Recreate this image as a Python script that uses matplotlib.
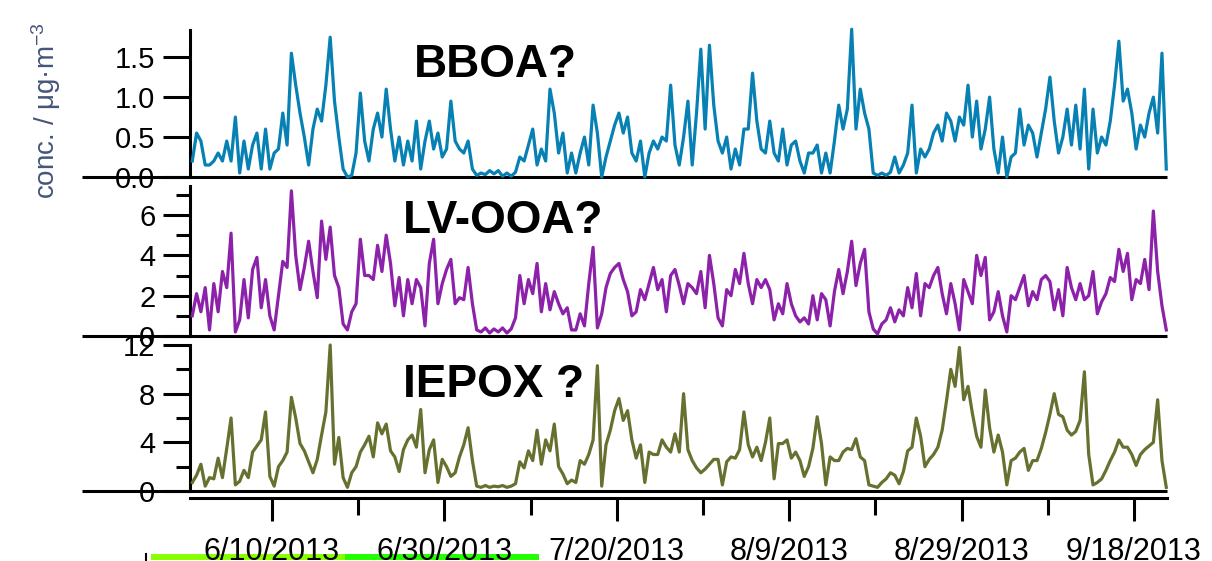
import matplotlib
matplotlib.use('Agg')
import matplotlib.pyplot as plt
from matplotlib.lines import Line2D
from datetime import datetime, timedelta

plt.rcParams['font.family'] = ['Liberation Sans', 'DejaVu Sans']
plt.rcParams['mathtext.fontset'] = 'custom'
plt.rcParams['mathtext.rm'] = 'Liberation Sans'
plt.rcParams['mathtext.it'] = 'Liberation Sans:italic'
plt.rcParams['mathtext.bf'] = 'Liberation Sans:bold'

# ---------------- data (12-hourly samples) ----------------
start_time = datetime(2013, 5, 31, 18)
step_hours = 12

bboa = [
    0.2, 0.55, 0.45, 0.15, 0.15, 0.2, 0.3, 0.2, 0.45, 0.2,
    0.75, 0.05, 0.45, 0.1, 0.4, 0.55, 0.1, 0.6, 0.1, 0.3,
    0.35, 0.8, 0.4, 1.55, 1.15, 0.8, 0.5, 0.15, 0.6, 0.85,
    0.7, 1.15, 1.75, 0.95, 0.5, 0.1, 0.0, 0.02, 0.3, 1.05,
    0.45, 0.2, 0.6, 0.8, 0.5, 1.1, 0.6, 0.2, 0.5, 0.15,
    0.45, 0.2, 0.7, 0.1, 0.45, 0.7, 0.35, 0.55, 0.25, 0.35,
    0.95, 0.45, 0.35, 0.3, 0.45, 0.1, 0.02, 0.05, 0.03, 0.08,
    0.04, 0.08, 0.01, 0.05, 0.01, 0.06, 0.25, 0.2, 0.4, 0.6,
    0.15, 0.35, 0.2, 1.1, 0.8, 0.3, 0.55, 0.05, 0.3, 0.05,
    0.3, 0.5, 0.15, 0.9, 0.55, 0.0, 0.25, 0.45, 0.65, 0.8,
    0.55, 0.75, 0.3, 0.2, 0.45, 0.0, 0.3, 0.45, 0.35, 0.5,
    0.45, 1.15, 0.4, 0.15, 0.5, 0.95, 0.15, 0.8, 1.6, 0.6,
    1.65, 0.9, 0.45, 0.3, 0.5, 0.1, 0.35, 0.15, 0.6, 0.6,
    1.3, 0.7, 0.35, 0.3, 0.7, 0.3, 0.2, 0.6, 0.15, 0.4,
    0.45, 0.2, 0.05, 0.3, 0.3, 0.4, 0.05, 0.3, 0.05, 0.45,
    0.9, 0.6, 0.85, 1.85, 0.6, 1.1, 0.8, 0.6, 0.05, 0.02,
    0.05, 0.02, 0.06, 0.25, 0.05, 0.15, 0.3, 0.9, 0.05, 0.35,
    0.25, 0.35, 0.55, 0.65, 0.45, 0.8, 0.7, 0.45, 0.75, 0.65,
    1.15, 0.5, 0.95, 0.35, 0.6, 1.0, 0.35, 0.05, 0.5, 0.0,
    0.25, 0.3, 0.85, 0.4, 0.65, 0.55, 0.25, 0.55, 0.85, 1.25,
    0.7, 0.3, 0.5, 0.85, 0.4, 0.9, 0.35, 1.1, 0.1, 0.85,
    0.3, 0.5, 0.4, 0.7, 1.15, 1.7, 0.95, 1.1, 0.8, 0.35,
    0.65, 0.5, 0.8, 1.0, 0.55, 1.55, 0.1,
]

lvooa = [
    1.0, 2.1, 1.2, 2.4, 0.3, 2.6, 1.2, 3.2, 2.4, 5.1,
    0.2, 0.8, 2.8, 0.9, 3.3, 3.9, 1.4, 2.8, 1.0, 0.3,
    2.0, 3.7, 3.4, 7.2, 4.0, 2.3, 3.4, 4.7, 3.2, 1.9,
    5.7, 3.8, 5.4, 3.0, 2.4, 0.6, 0.3, 1.2, 1.6, 4.8,
    3.0, 3.0, 2.8, 4.5, 3.2, 5.0, 3.6, 1.5, 2.9, 1.0,
    2.8, 1.6, 2.8, 2.4, 0.5, 3.6, 4.8, 1.6, 2.6, 3.3,
    3.8, 1.6, 1.9, 1.8, 3.4, 1.6, 0.3, 0.2, 0.4, 0.15,
    0.35, 0.2, 0.4, 0.15, 0.35, 0.9, 3.0, 1.6, 2.8, 2.1,
    3.6, 1.2, 2.6, 1.3, 2.2, 1.6, 1.1, 1.4, 0.3, 0.3,
    1.1, 0.5, 2.6, 4.4, 0.4, 1.1, 2.4, 3.1, 3.4, 3.6,
    2.8, 2.2, 1.0, 1.2, 2.3, 1.8, 2.6, 3.4, 2.3, 2.8,
    1.2, 3.0, 3.3, 2.5, 1.6, 2.6, 2.4, 2.1, 3.2, 1.4,
    4.0, 2.6, 0.9, 0.5, 2.3, 2.0, 3.3, 2.6, 4.1, 2.6,
    1.6, 2.8, 2.4, 2.8, 2.3, 0.8, 1.6, 1.1, 2.6, 1.6,
    1.0, 0.7, 0.9, 0.6, 2.0, 0.8, 2.1, 1.8, 0.5, 2.2,
    3.3, 2.1, 3.2, 4.7, 2.5, 3.6, 4.3, 1.2, 0.35, 0.1,
    0.6, 0.8, 1.4, 0.7, 1.3, 1.0, 2.4, 1.4, 3.1, 1.0,
    2.6, 2.4, 3.0, 3.4, 2.1, 1.1, 2.6, 1.6, 0.3, 2.8,
    2.2, 1.6, 4.0, 3.0, 3.9, 0.8, 1.2, 2.2, 1.0, 0.2,
    2.0, 1.8, 2.4, 3.0, 1.5, 2.2, 1.8, 2.8, 3.0, 2.7,
    1.3, 2.3, 1.0, 3.4, 2.4, 1.8, 2.6, 1.8, 2.0, 3.2,
    1.1, 1.7, 2.1, 2.9, 2.7, 4.3, 3.2, 4.1, 1.8, 2.8,
    2.6, 3.8, 2.3, 6.2, 3.2, 1.5, 0.3,
]

iepox = [
    0.7, 1.3, 2.2, 0.4, 1.1, 1.0, 2.7, 1.1, 3.5, 6.0,
    0.5, 0.8, 1.7, 1.1, 3.2, 3.7, 4.2, 6.5, 1.2, 0.4,
    2.0, 2.5, 3.2, 7.7, 6.0, 3.9, 3.3, 2.4, 1.5, 2.6,
    4.6, 6.5, 12.0, 2.2, 4.4, 1.1, 0.3, 1.5, 2.0, 3.2,
    3.8, 4.5, 2.8, 5.6, 4.7, 5.5, 3.3, 2.8, 1.6, 3.4,
    4.2, 4.6, 3.6, 6.7, 1.5, 3.4, 4.2, 0.7, 2.6, 2.0,
    1.2, 1.5, 2.8, 3.8, 5.2, 2.5, 0.4, 0.3, 0.45, 0.3,
    0.4, 0.35, 0.45, 0.3, 0.4, 0.6, 2.4, 1.9, 3.3, 2.5,
    5.0, 2.2, 4.2, 3.3, 5.5, 2.0, 1.4, 0.6, 0.9, 0.7,
    2.5, 2.2, 3.0, 4.2, 10.3, 0.4, 3.8, 5.0, 6.6, 7.6,
    5.8, 6.6, 4.2, 2.7, 3.8, 0.7, 3.2, 3.0, 3.0, 4.2,
    3.6, 3.2, 4.7, 3.2, 8.0, 3.4, 2.5, 1.9, 1.5, 1.8,
    2.2, 2.6, 2.6, 0.5, 2.4, 2.8, 2.7, 3.4, 6.5, 3.8,
    2.8, 3.6, 2.5, 4.0, 6.0, 1.0, 3.9, 3.9, 4.2, 2.7,
    3.2, 2.5, 1.2, 2.0, 3.5, 6.1, 3.9, 0.5, 2.8, 2.5,
    2.5, 3.2, 3.5, 3.4, 4.3, 2.8, 2.5, 0.5, 0.4, 0.3,
    0.7, 1.0, 1.5, 1.3, 0.6, 1.6, 3.3, 3.6, 6.0, 4.5,
    2.0, 2.6, 3.0, 3.6, 5.0, 7.4, 10.0, 8.6, 11.8, 7.5,
    8.6, 6.4, 4.5, 3.6, 8.3, 5.2, 3.2, 4.6, 3.2, 0.5,
    2.5, 2.7, 3.2, 3.5, 1.7, 2.5, 2.5, 3.5, 4.8, 6.3,
    8.0, 6.3, 6.1, 5.0, 4.6, 4.9, 5.8, 9.8, 3.0, 0.5,
    0.7, 1.0, 1.7, 2.5, 3.2, 4.2, 3.6, 3.6, 3.0, 2.1,
    3.0, 3.4, 3.7, 4.0, 7.5, 2.5, 0.3,
]

panel_names = ['BBOA?', 'LV-OOA?', 'IEPOX ?']
panel_series = [bboa, lvooa, iepox]
y_tops = [1.84, 7.44, 12.0]
y_major = [[0.0, 0.5, 1.0, 1.5], [0, 2, 4, 6], [0, 4, 8, 12]]
y_major_labels = [['0.0', '0.5', '1.0', '1.5'], ['0', '2', '4', '6'], ['0', '4', '8', '12']]
y_minor = [[], [1, 3, 5, 7], [2, 6, 10]]
x_tick_labels = ['6/10/2013', '6/30/2013', '7/20/2013', '8/9/2013', '8/29/2013', '9/18/2013']
x_minor_dates = ['6/20/2013', '7/10/2013', '7/30/2013', '8/19/2013', '9/8/2013']
y_label = r'conc. / μg·m$^{-3}$'

# ---------------- styling / layout ----------------
colors = ['#0780b4', '#8c22aa', '#687030']
W, H = 1212, 561
fig = plt.figure(figsize=(W / 100, H / 100), dpi=100)
fig.patch.set_facecolor('white')

boxes = [(30, 177), (186, 336), (345, 491)]   # top/bottom pixel rows of each panel
left_px, right_px = 190, 1167
zero_left_px = 82
title_pos = [(414, 77), (403, 233), (403, 397)]

times = [start_time + timedelta(hours=step_hours * i) for i in range(len(bboa))]
x_major = [datetime.strptime(s, '%m/%d/%Y') for s in x_tick_labels]
x_minor = [datetime.strptime(s, '%m/%d/%Y') for s in x_minor_dates]
x_lo = datetime(2013, 5, 31, 11, 40)
x_hi = datetime(2013, 9, 21, 20, 0)

LW = 2.2
for k, ser in enumerate(panel_series):
    top, bot = boxes[k]
    ax = fig.add_axes([left_px / W, 1 - bot / H, (right_px - left_px) / W, (bot - top) / H])
    ax.patch.set_alpha(0)
    ax.plot(times, ser, color=colors[k], lw=2.3, clip_on=False, zorder=3,
            solid_joinstyle='round')
    ax.set_xlim(x_lo, x_hi)
    ax.set_ylim(0, y_tops[k])
    for s in ['top', 'right']:
        ax.spines[s].set_visible(False)
    ax.spines['left'].set_linewidth(LW)
    ax.set_yticks(y_major[k])
    ax.set_yticklabels(y_major_labels[k])
    ax.set_yticks(y_minor[k], minor=True)
    ax.tick_params(axis='y', which='major', length=19.4, width=LW, pad=5.5,
                   labelsize=21, colors='black')
    ax.tick_params(axis='y', which='minor', length=10, width=LW)
    frac = (zero_left_px - left_px) / (right_px - left_px)
    ax.plot([frac, 1.0], [0, 0], transform=ax.get_yaxis_transform(), color='black',
            lw=LW, clip_on=False, zorder=2, solid_capstyle='butt')
    if k < 2:
        ax.spines['bottom'].set_visible(False)
        ax.tick_params(axis='x', which='both', bottom=False, labelbottom=False)
    else:
        ax.spines['bottom'].set_position(('outward', 5))
        ax.spines['bottom'].set_linewidth(LW)
        ax.set_xticks(x_major)
        ax.set_xticklabels(x_tick_labels)
        ax.set_xticks(x_minor, minor=True)
        ax.tick_params(axis='x', which='major', length=16.6, width=LW, pad=11.5, labelsize=22)
        ax.tick_params(axis='x', which='minor', length=12.2, width=LW)
    tx, ty = title_pos[k]
    fig.text(tx / W, 1 - ty / H, panel_names[k], fontsize=33, fontweight='bold',
             va='baseline', ha='left', color='black')

fig.text(46 / W, 1 - 111 / H, y_label, rotation=90, fontsize=20, color='#45557a',
         ha='center', va='center')

# decorative green bar under the date labels
fig.add_artist(Line2D([151 / W, 345 / W], [1 - 557 / H] * 2, color='#88ff00',
                      lw=4.3, zorder=-1, solid_capstyle='butt'))
fig.add_artist(Line2D([345 / W, 539 / W], [1 - 557 / H] * 2, color='#22ff00',
                      lw=4.3, zorder=-1, solid_capstyle='butt'))
fig.add_artist(Line2D([146 / W, 146 / W], [1 - 554 / H, 1 - 560 / H], color='black',
                      lw=1.5, zorder=-1))

fig.savefig('out.png', dpi=100, facecolor='white')
